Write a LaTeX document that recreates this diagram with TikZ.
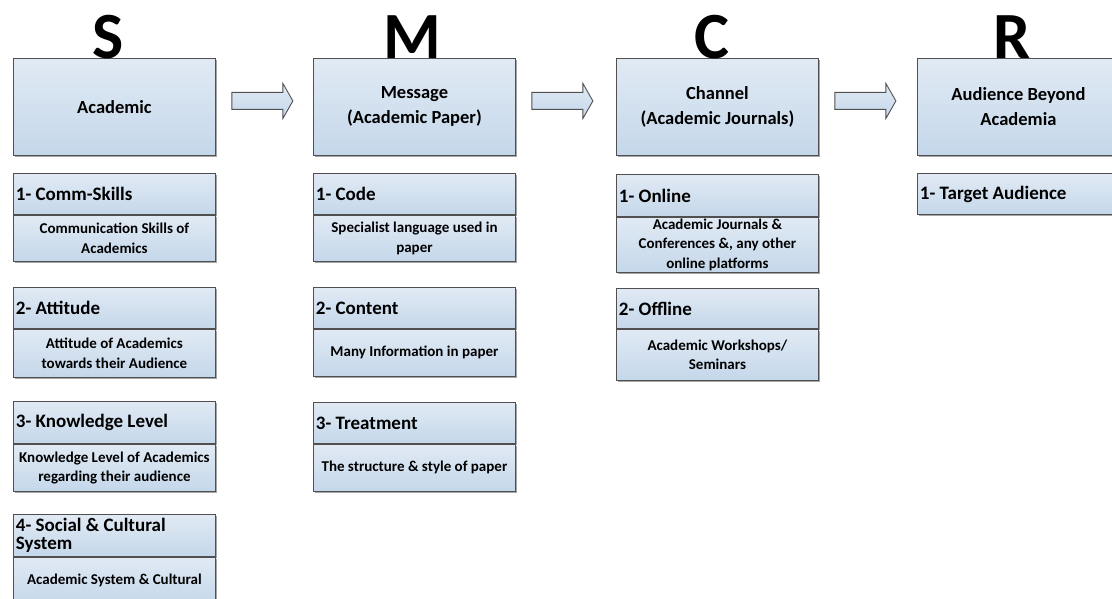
\documentclass[tikz,border=0pt]{standalone}
\usepackage{fontspec}
\setmainfont{Carlito}
\usetikzlibrary{shadows,calc}
\definecolor{boxtop}{RGB}{225,234,244}
\definecolor{boxbot}{RGB}{196,215,234}
\definecolor{edge}{RGB}{80,80,80}
\definecolor{shade}{RGB}{165,165,165}
\tikzset{
  panel/.style={draw=edge, line width=0.9pt, top color=boxtop, bottom color=boxbot,
    drop shadow={shadow xshift=1.8pt, shadow yshift=-1.8pt, fill=shade, opacity=1},
    inner sep=0pt, anchor=north west, minimum width=202pt},
  mainbox/.style={panel, minimum height=97pt, align=center,
    font=\bfseries\fontsize{18.5}{25}\selectfont},
  headbox/.style={panel, text width=197pt, align=flush left,
    font=\bfseries\fontsize{19}{18.5}\selectfont},
  subbox/.style={panel, align=center,
    font=\bfseries\fontsize{15}{19.5}\selectfont},
  letter/.style={font=\bfseries\fontsize{66}{66}\selectfont, anchor=base, inner sep=0pt},
  flow/.style={draw=edge, line width=0.9pt, top color=boxtop, bottom color=boxbot, line join=miter}
}
\begin{document}
\begin{tikzpicture}[x=1pt, y=-1pt]
\useasboundingbox (0,0) rectangle (1112,599);
\clip (0,0) rectangle (1112,599);

% ---- Source ----
\node[mainbox] (S) at (13,58) {Academic};
\node[headbox, minimum height=41pt] (s1h) at (13,173) {1- Comm-Skills};
\node[subbox, minimum height=46pt] (s1b) at (s1h.south west) {Communication Skills of\\Academics};
\node[headbox, minimum height=41pt] (s2h) at (13,287) {2- Attitude};
\node[subbox, minimum height=48pt] (s2b) at (s2h.south west) {Attitude of Academics\\towards their Audience};
\node[headbox, minimum height=42pt] (s3h) at (13,401) {3- Knowledge Level};
\node[subbox, minimum height=47pt] (s3b) at (s3h.south west) {Knowledge Level of Academics\\regarding their audience};
\node[headbox, minimum height=42pt] (s4h) at (13,514) {4- Social \& Cultural\\System};
\node[subbox, minimum height=46pt] (s4b) at (s4h.south west) {Academic System \& Cultural};

% ---- Message ----
\node[mainbox] (M) at (313,58) {Message\\(Academic Paper)};
\node[headbox, minimum height=41pt] (m1h) at (313,173) {1- Code};
\node[subbox, minimum height=46pt] (m1b) at (m1h.south west) {Specialist language used in\\paper};
\node[headbox, minimum height=41pt] (m2h) at (313,287) {2- Content};
\node[subbox, minimum height=47pt] (m2b) at (m2h.south west) {Many Information in paper};
\node[headbox, minimum height=41pt] (m3h) at (313,402) {3- Treatment};
\node[subbox, minimum height=47pt] (m3b) at (m3h.south west) {The structure \& style of paper};

% ---- Channel ----
\node[mainbox] (C) at (616,58) {Channel\\(Academic Journals)};
\node[headbox, minimum height=42pt] (c1h) at (616,174) {1- Online};
\node[subbox, minimum height=55pt] (c1b) at (c1h.south west) {Academic Journals \&\\Conferences \&, any other\\online platforms};
\node[headbox, minimum height=40pt] (c2h) at (616,288) {2- Offline};
\node[subbox, minimum height=51pt] (c2b) at (c2h.south west) {Academic Workshops/\\Seminars};

% ---- Receiver ----
\node[mainbox] (R) at (917,58) {Audience Beyond\\Academia};
\node[headbox, minimum height=41pt] (r1h) at (917,173) {1- Target Audience};

% ---- Column letters ----
\node[letter] (lS) at (108,59) {S};
\node[letter] (lM) at (412,59) {M};
\node[letter] (lC) at (712,59) {C};
\node[letter] (lR) at (1012,59) {R};

% ---- Block arrows between stages ----
\foreach \a in {S,M,C}{
  \draw[flow] ($(\a.east)+(16,-6)$) -- ++(0,-8.5) -- ++(51,0) -- ++(0,-9)
    -- ++(10,17.5) -- ++(-10,17.5) -- ++(0,-9) -- ++(-51,0) -- cycle;
}
\end{tikzpicture}
\end{document}
